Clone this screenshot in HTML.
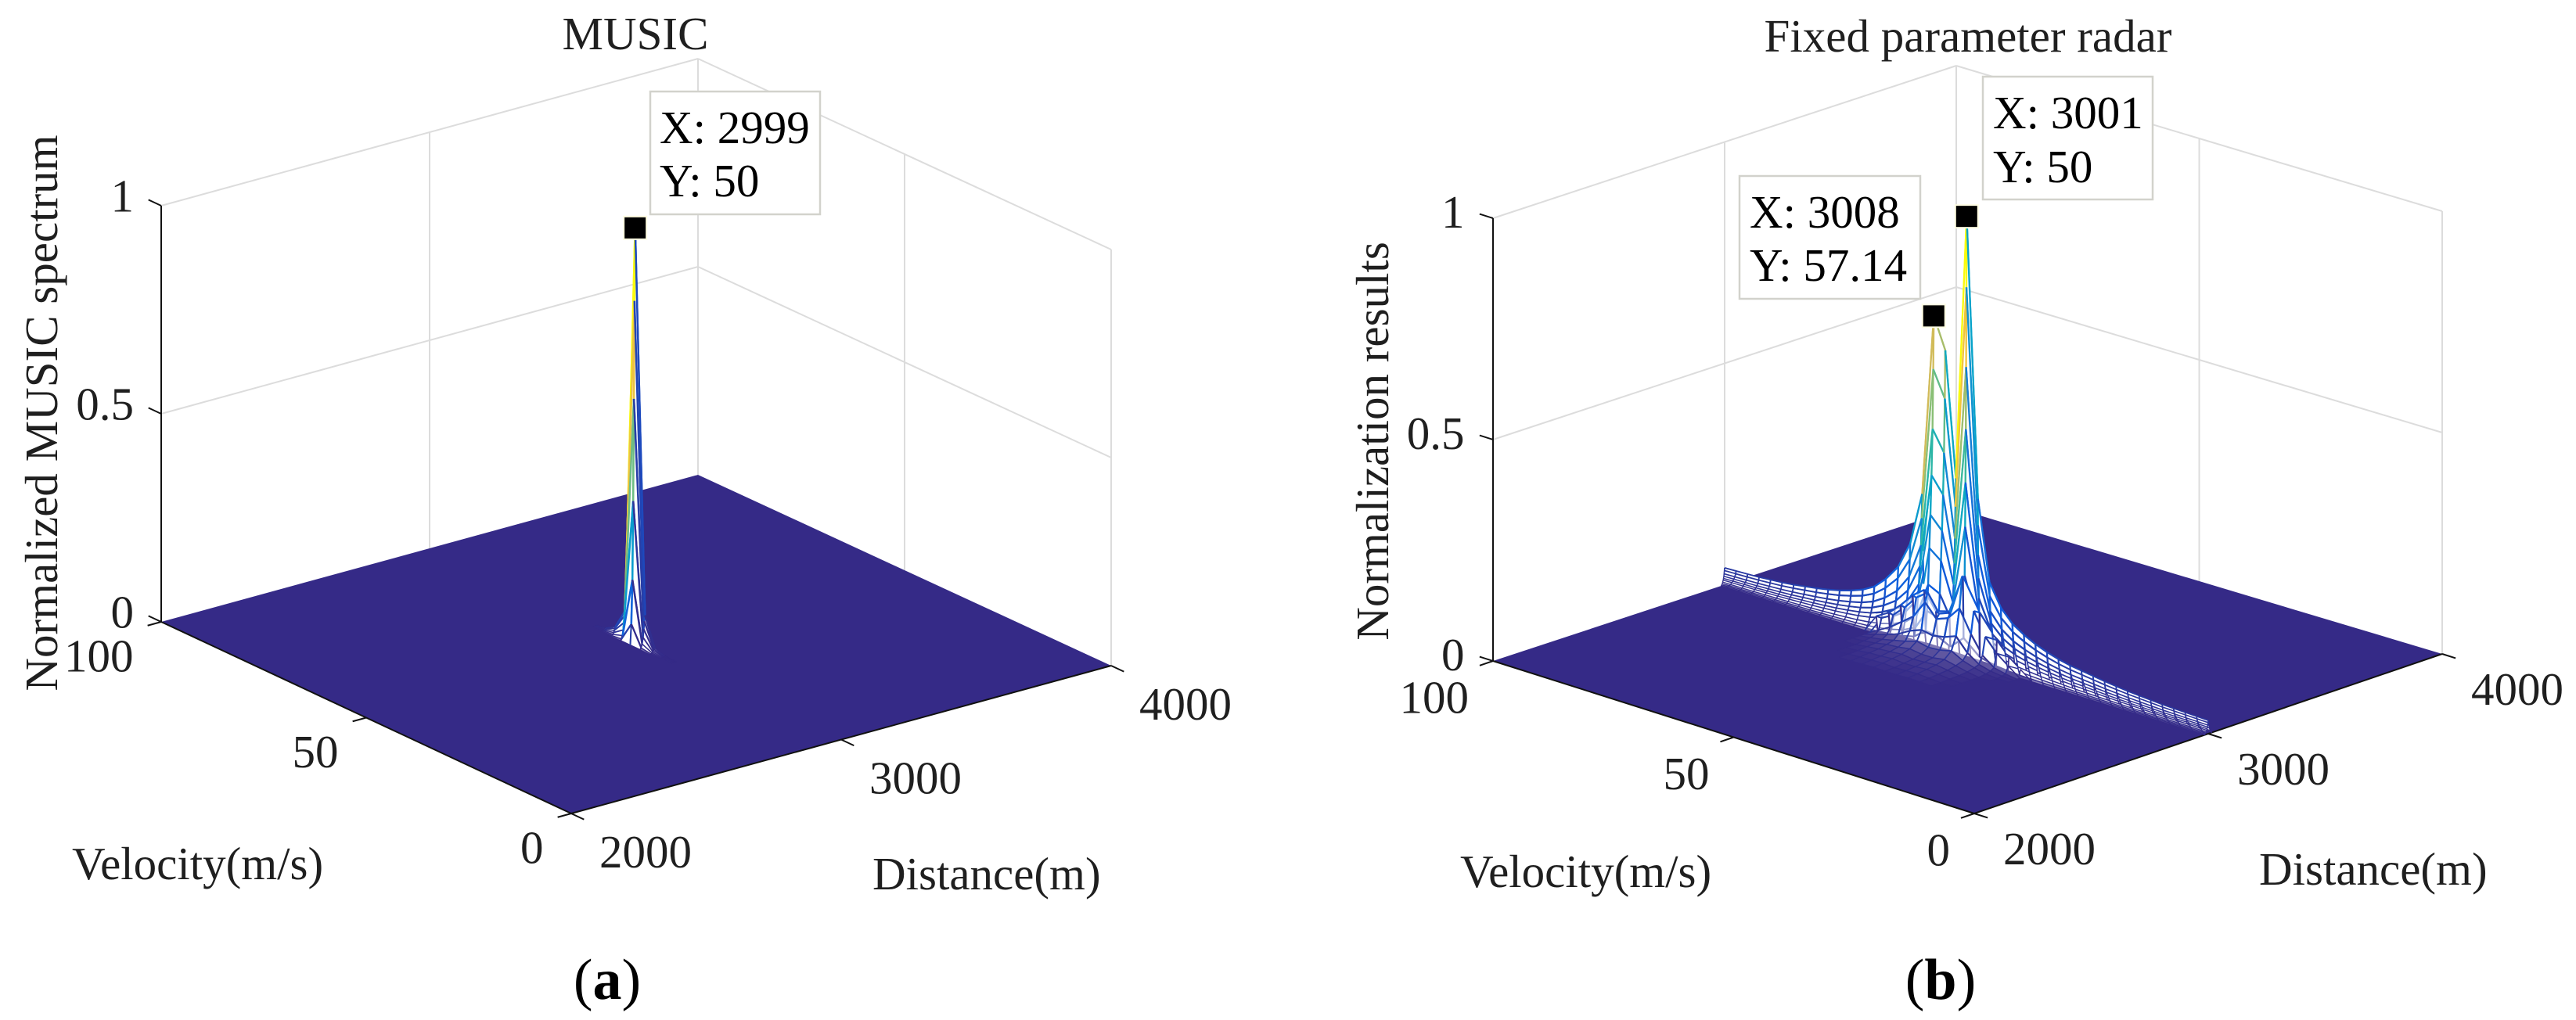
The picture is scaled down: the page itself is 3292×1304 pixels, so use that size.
<!DOCTYPE html>
<html>
<head>
<meta charset="utf-8">
<title>MUSIC and fixed parameter radar spectra</title>
<style>
html,body{margin:0;padding:0;background:#fff;}
svg{display:block;}
text{font-family:"Liberation Serif",serif;fill:#1f1f1f;font-size:59px;}
</style>
</head>
<body>
<svg id="figure" xmlns="http://www.w3.org/2000/svg" width="3292" height="1304" viewBox="0 0 3292 1304">
  <rect x="0" y="0" width="3292" height="1304" fill="#fff"/>
  <g id="panelA"></g>
  <g id="panelB"></g>

  <text x="812" y="63" text-anchor="middle">MUSIC</text>
  <text transform="translate(73 528) rotate(-90)" text-anchor="middle">Normalized MUSIC spectrum</text>
  <text x="92" y="1124">Velocity(m/s)</text>
  <text x="1115" y="1137">Distance(m)</text>
  <text x="776" y="1277" text-anchor="middle" style="font-size:74px;fill:#000">(<tspan font-weight="bold">a</tspan>)</text>

  <text x="2515" y="66" text-anchor="middle">Fixed parameter radar</text>
  <text transform="translate(1774 564) rotate(-90)" text-anchor="middle">Normalization results</text>
  <text x="1866" y="1134">Velocity(m/s)</text>
  <text x="2887" y="1131">Distance(m)</text>
  <text x="2480" y="1277" text-anchor="middle" style="font-size:74px;fill:#000">(<tspan font-weight="bold">b</tspan>)</text>
</svg>

<script>
// ---- axis ticks ----
const distanceTicks = [2000, 3000, 4000];
const velocityTicks = [0, 50, 100];
const heightTicks = [0, 0.5, 1];
const heightTickLabels = ["0", "0.5", "1"];

// ---- shared velocity samples (m/s), one per mesh row ----
const velocityGrid = [0, 2.38, 4.76, 7.14, 9.52, 11.9, 14.29, 16.67, 19.05, 21.43, 23.81, 26.19, 28.57, 30.95, 33.33, 35.71, 38.1, 40.48, 42.86, 45.24, 47.62, 50, 52.38, 54.76, 57.14, 59.52, 61.9, 64.29, 66.67, 69.05, 71.43, 73.81, 76.19, 78.57, 80.95, 83.33, 85.71, 88.1, 90.48, 92.86, 95.24, 97.62, 100];

// ---- MUSIC spectrum: crest height per velocity row ----
const musicCrest = [0, 0, 0, 0, 0, 0, 0, 0, 0, 0, 0, 0, 0, 0, 0, 0, 0, 0, 0.004, 0.012, 0.08, 1, 0.07, 0.02, 0.005, 0, 0, 0, 0, 0, 0, 0, 0, 0, 0, 0, 0, 0, 0, 0, 0, 0, 0];
const musicCrestDistance = 2999;
const musicOffsets = [-18, -14, -10, -7, -4.5, -2.5, 0, 1.5, 3, 5, 8, 12];
const musicProfile = [0, 0.05, 0.156, 0.345, 0.59, 0.825, 1, 0.8, 0.55, 0.3, 0.1, 0];
const musicPeakDistance = [2999];
const musicPeakVelocity = [50];
const musicPeakHeight = [1];

// ---- Fixed parameter radar: crest height and crest distance per velocity row ----
const radarCrest = [0.03, 0.031, 0.032, 0.033, 0.034, 0.036, 0.038, 0.04, 0.043, 0.046, 0.05, 0.054, 0.058, 0.064, 0.072, 0.082, 0.095, 0.112, 0.14, 0.19, 0.37, 1, 0.4, 0.68, 0.75, 0.34, 0.22, 0.16, 0.125, 0.1, 0.085, 0.075, 0.067, 0.061, 0.056, 0.052, 0.048, 0.045, 0.043, 0.041, 0.04, 0.039, 0.038];
const radarCrestDistance = [3000, 3000, 3000, 3000, 3000, 3000, 3000, 3000, 3000, 3000, 3000, 3000, 3000, 3000, 3000, 3000, 3000, 3000, 3000, 3000, 3000, 3001, 3004, 3008, 3008, 3008, 3006, 3004, 3000, 3000, 3000, 3000, 3000, 3000, 3000, 3000, 3000, 3000, 3000, 3000, 3000, 3000, 3000];
const radarOffsets = [-16, -13, -10.5, -8.5, -6.5, -5, -3.5, -2.2, -1, 0, 1.5, 3, 5, 8, 12, 16];
const radarProfile = [0, 0.05, 0.11, 0.19, 0.3, 0.4, 0.52, 0.66, 0.84, 1, 0.82, 0.62, 0.4, 0.2, 0.07, 0];
// how far (m/s) each column's cross-lines lean away from the peak as they fall to the floor
const radarColumnLean = [2.4, 2.1, 1.8, 1.5, 1.2, 0.9, 0.6, 0.3, 0.1, 0, 0, 0, 0, 0, 0, 0];
const radarPeakDistance = [3001, 3008];
const radarPeakVelocity = [50, 57.14];
const radarPeakHeight = [1, 0.75];

// ---- Fixed parameter radar: low sidelobes on the near side of the peak ----
const lobeDistances = [2750, 2790, 2830, 2870, 2905, 2935, 2955, 2970, 2982];
const lobeFirstRow = 17;
const lobeHeights = [
  [0, 0, 0, 0, 0, 0, 0.002, 0.004, 0.02],
  [0, 0, 0, 0, 0, 0.002, 0.005, 0.01, 0.04],
  [0, 0, 0.001, 0.002, 0.004, 0.008, 0.012, 0.03, 0.07],
  [0.001, 0.002, 0.004, 0.006, 0.01, 0.016, 0.03, 0.07, 0.12],
  [0.002, 0.004, 0.007, 0.01, 0.016, 0.03, 0.06, 0.12, 0.19],
  [0.001, 0.003, 0.005, 0.008, 0.012, 0.024, 0.05, 0.09, 0.1],
  [0.001, 0.002, 0.005, 0.007, 0.012, 0.022, 0.045, 0.08, 0.09],
  [0.002, 0.004, 0.007, 0.01, 0.016, 0.028, 0.05, 0.11, 0.13],
  [0.001, 0.003, 0.005, 0.008, 0.012, 0.02, 0.04, 0.07, 0.11],
  [0, 0.002, 0.004, 0.006, 0.01, 0.014, 0.025, 0.05, 0.08],
  [0, 0, 0.001, 0.003, 0.005, 0.008, 0.015, 0.03, 0.055],
  [0, 0, 0, 0, 0.002, 0.004, 0.008, 0.015, 0.04]
];

// ---- geometry of each 3-D axes box on the page ----
const geomA = {
  left: [206, 795], back: [892, 607], right: [1420, 851], front: [730, 1040], zPx: 532,
  velLabel: [-35.5, 63.5], distLabel: [36, 69], zLabel: [-35, 7.5], lineWidth: 2.5
};
const geomB = {
  left: [1908, 845], back: [2500, 650], right: [3121, 836], front: [2523, 1040], zPx: 566,
  velLabel: [-31, 66.5], distLabel: [37, 65], zLabel: [-36.5, 12], lineWidth: 2.3
};

const SVG_NS = "http://www.w3.org/2000/svg";
const PARULA = ["#352a87", "#0f5cdd", "#1481d6", "#06a4ca", "#2eb7a4", "#87bf77", "#d1bb59", "#fec832", "#f9fb0e"];

function hexRgb(h) {
  return [parseInt(h.slice(1, 3), 16), parseInt(h.slice(3, 5), 16), parseInt(h.slice(5, 7), 16)];
}
function parula(z) {
  const s = Math.max(0, Math.min(1, z)) * (PARULA.length - 1);
  const i = Math.min(PARULA.length - 2, Math.floor(s));
  const f = s - i;
  const a = hexRgb(PARULA[i]);
  const b = hexRgb(PARULA[i + 1]);
  return "rgb(" + [0, 1, 2].map(function (k) { return Math.round(a[k] + (b[k] - a[k]) * f); }).join(",") + ")";
}
function project(g, d, v, z) {
  const u = (d - 2000) / 2000;
  const t = v / 100;
  const x = (1 - u) * (1 - t) * g.front[0] + u * (1 - t) * g.right[0] + (1 - u) * t * g.left[0] + u * t * g.back[0];
  const y = (1 - u) * (1 - t) * g.front[1] + u * (1 - t) * g.right[1] + (1 - u) * t * g.left[1] + u * t * g.back[1];
  return [x, y - z * g.zPx];
}
function make(tag, parent, attrs) {
  const el = document.createElementNS(SVG_NS, tag);
  Object.keys(attrs).forEach(function (k) { el.setAttribute(k, attrs[k]); });
  parent.appendChild(el);
  return el;
}
function wallLine(parent, a, b) {
  const el = make("line", parent, { x1: a[0], y1: a[1], x2: b[0], y2: b[1], stroke: "#dcdcdc", "stroke-width": 2 });
  
  
}
function axisLine(parent, a, b) {
  const el = make("line", parent, { x1: a[0], y1: a[1], x2: b[0], y2: b[1], stroke: "#111", "stroke-width": 2 });
  
  
}
function tickMark(parent, a, dir) {
  const len = Math.hypot(dir[0], dir[1]);
  const b = [a[0] + dir[0] / len * 18, a[1] + dir[1] / len * 18];
  const el = make("line", parent, { x1: a[0], y1: a[1], x2: b[0], y2: b[1], stroke: "#111", "stroke-width": 2 });
  
  
}
function tickLabel(parent, x, y, anchor, str) {
  const el = make("text", parent, { x: x, y: y, "text-anchor": anchor });
  el.textContent = str;
  
  
}

function drawBox(parent, g) {
  const dMin = distanceTicks[0];
  const dMid = distanceTicks[1];
  const dMax = distanceTicks[2];
  const vMin = velocityTicks[0];
  const vMid = velocityTicks[1];
  const vMax = velocityTicks[2];
  const zTop = heightTicks[heightTicks.length - 1];
  wallLine(parent, project(g, dMax, vMax, 0), project(g, dMax, vMax, zTop));
  wallLine(parent, project(g, dMax, vMin, 0), project(g, dMax, vMin, zTop));
  wallLine(parent, project(g, dMid, vMax, 0), project(g, dMid, vMax, zTop));
  wallLine(parent, project(g, dMax, vMid, 0), project(g, dMax, vMid, zTop));
  heightTicks.forEach(function (z) {
    if (z === 0) return;
    wallLine(parent, project(g, dMin, vMax, z), project(g, dMax, vMax, z));
    wallLine(parent, project(g, dMax, vMax, z), project(g, dMax, vMin, z));
  });
  const floorPts = [g.left, g.back, g.right, g.front].map(function (p) { return p.join(","); }).join(" ");
  const floor = make("polygon", parent, { points: floorPts, fill: "#352a87" });
  
  
  axisLine(parent, g.left, g.front);
  axisLine(parent, g.front, g.right);
  axisLine(parent, project(g, dMin, vMax, 0), project(g, dMin, vMax, zTop));

  const toLowD = [g.front[0] - g.right[0], g.front[1] - g.right[1]];
  const toLowV = [g.front[0] - g.left[0], g.front[1] - g.left[1]];
  const toHighV = [g.left[0] - g.front[0], g.left[1] - g.front[1]];

  velocityTicks.forEach(function (v) {
    const p = project(g, dMin, v, 0);
    tickMark(parent, p, toLowD);
    tickLabel(parent, p[0] + g.velLabel[0], p[1] + g.velLabel[1], "end", String(v));
  });
  distanceTicks.forEach(function (d) {
    const p = project(g, d, vMin, 0);
    tickMark(parent, p, toLowV);
    tickLabel(parent, p[0] + g.distLabel[0], p[1] + g.distLabel[1], "start", String(d));
  });
  heightTicks.forEach(function (z, i) {
    const p = project(g, dMin, vMax, z);
    tickMark(parent, p, toHighV);
    tickLabel(parent, p[0] + g.zLabel[0], p[1] + g.zLabel[1], "end", heightTickLabels[i]);
  });
}

function drawMesh(parent, g, verts, heights, dimColumns) {
  const rows = verts.length;
  const cols = verts[0].length;
  const quads = [];
  for (let r = 0; r < rows - 1; r++) {
    for (let c = 0; c < cols - 1; c++) {
      const top = Math.max(heights[r][c], heights[r + 1][c], heights[r][c + 1], heights[r + 1][c + 1]);
      if (top < 0.0008) continue;
      const depth = verts[r][c][0] + verts[r + 1][c + 1][0] + (verts[r][c][1] + verts[r + 1][c + 1][1]) * 20;
      quads.push({ r: r, c: c, top: top, depth: depth });
    }
  }
  quads.sort(function (a, b) { return b.depth - a.depth; });
  quads.forEach(function (q) {
    const r = q.r;
    const c = q.c;
    const P = function (rr, cc) { return project(g, verts[rr][cc][0], verts[rr][cc][1], heights[rr][cc]); };
    const p00 = P(r, c);
    const p01 = P(r, c + 1);
    const p11 = P(r + 1, c + 1);
    const p10 = P(r + 1, c);
    const opacity = c < dimColumns ? Math.min(0.6, q.top / 0.14) : Math.min(1, q.top / 0.012);
    const face = make("polygon", parent, {
      points: [p00, p01, p11, p10].map(function (p) { return p[0].toFixed(1) + "," + p[1].toFixed(1); }).join(" "),
      fill: "#fff",
      "fill-opacity": opacity.toFixed(3)
    });
    
    
    const width = g.lineWidth * (0.5 + Math.min(0.5, q.top * 6));
    const edges = [
      [p00, p01, heights[r][c + 1]],
      [p10, p11, heights[r + 1][c + 1]],
      [p00, p10, heights[r][c]],
      [p01, p11, heights[r][c + 1]]
    ];
    edges.forEach(function (e) {
      const line = make("line", parent, {
        x1: e[0][0].toFixed(1), y1: e[0][1].toFixed(1), x2: e[1][0].toFixed(1), y2: e[1][1].toFixed(1),
        stroke: parula(e[2]), "stroke-width": width.toFixed(2)
      });
      
      
    });
  });
}

function drawMarkers(parent, g, ds, vs, zs) {
  ds.forEach(function (d, i) {
    const p = project(g, d, vs[i], zs[i]);
    const halo = make("rect", parent, { x: p[0] - 15.5, y: p[1] - 15.5, width: 31, height: 31, fill: "#fffde3" });
    
    
    const m = make("rect", parent, { x: p[0] - 13.5, y: p[1] - 13.5, width: 27, height: 27, fill: "#000" });
    
    
  });
}

function drawTip(parent, x, y, w, h, tx, b1, b2, l1, l2) {
  const grp = make("g", parent, {});
  
  
  const box = make("rect", grp, { x: x, y: y, width: w, height: h, fill: "#fff", stroke: "#d2d2cc", "stroke-width": 2.5 });
  
  
  const t1 = make("text", grp, { x: tx, y: b1, style: "fill:#000" });
  t1.textContent = l1;
  
  
  const t2 = make("text", grp, { x: tx, y: b2, style: "fill:#000" });
  t2.textContent = l2;
  
  
}

// ---- Panel (a) ----
const gA = document.getElementById("panelA");
drawBox(gA, geomA);
const vertsA = velocityGrid.map(function (v) {
  return musicOffsets.map(function (o) { return [musicCrestDistance + o, v]; });
});
const heightsA = musicCrest.map(function (crest) {
  return musicProfile.map(function (p) { return crest * p; });
});
drawMesh(gA, geomA, vertsA, heightsA, 0);
drawTip(gA, 831, 117, 217, 157, 843, 183, 251, "X: 2999", "Y: 50");
drawMarkers(gA, geomA, musicPeakDistance, musicPeakVelocity, musicPeakHeight);

// ---- Panel (b) ----
const gB = document.getElementById("panelB");
drawBox(gB, geomB);
const vertsB = velocityGrid.map(function (v, r) {
  const low = lobeDistances.map(function (d) { return [d, v]; });
  const side = Math.max(-1, Math.min(1, (v - 50) / 5));
  const core = radarOffsets.map(function (o, c) {
    const lean = radarColumnLean[c] * side * (side < 0 ? 1 : 0.5);
    return [radarCrestDistance[r] + o, Math.max(0, Math.min(100, v + lean))];
  });
  return low.concat(core);
});
const heightsB = radarCrest.map(function (crest, r) {
  const lobeRow = lobeHeights[r - lobeFirstRow];
  const low = lobeDistances.map(function (d, c) { return lobeRow ? lobeRow[c] : 0; });
  const seam = lobeRow ? lobeRow[lobeRow.length - 1] : 0;
  const core = radarProfile.map(function (p, c) {
    const z = crest * p;
    return c === 0 ? Math.max(z, seam) : z;
  });
  return low.concat(core);
});
drawMesh(gB, geomB, vertsB, heightsB, lobeDistances.length);
drawTip(gB, 2534, 98, 217, 157, 2547, 164, 233, "X: 3001", "Y: 50");
drawTip(gB, 2223, 225, 231, 157, 2236, 291, 359, "X: 3008", "Y: 57.14");
drawMarkers(gB, geomB, radarPeakDistance, radarPeakVelocity, radarPeakHeight);
</script>
</body>
</html>
